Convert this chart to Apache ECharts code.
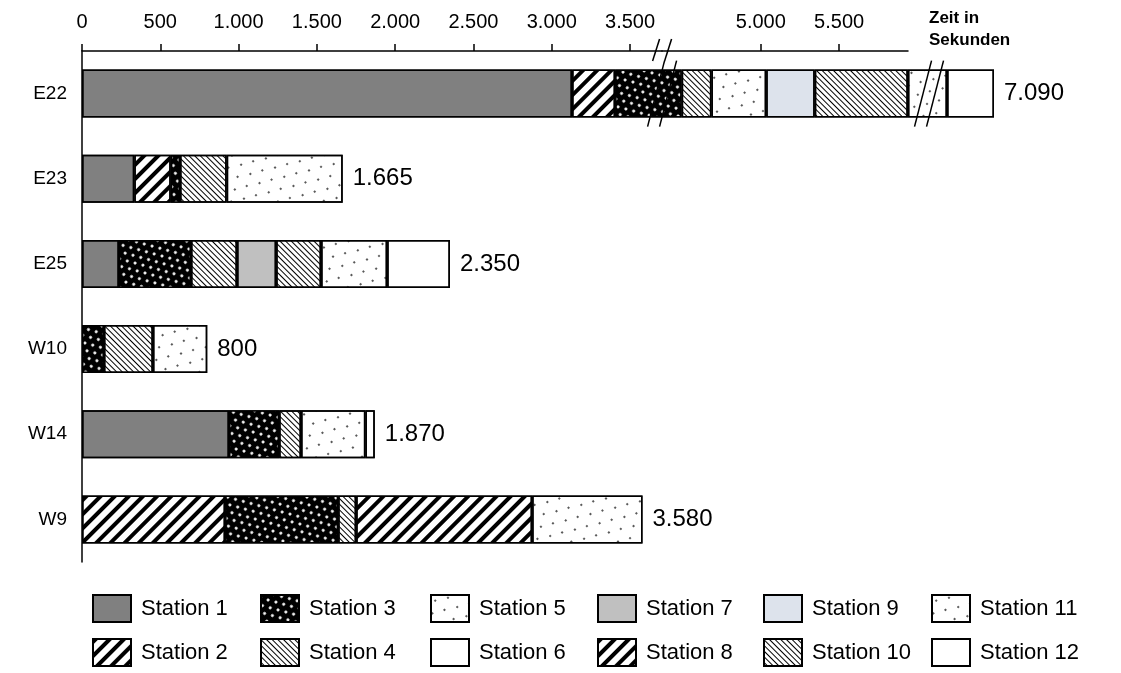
<!DOCTYPE html>
<html>
<head>
<meta charset="utf-8">
<script src="https://cdn.jsdelivr.net/npm/echarts@6.0.0/dist/echarts.min.js"></script>
<style>
  html, body { margin: 0; padding: 0; background: #fff; }
  #chart { width: 1121px; height: 673px; }
</style>
</head>
<body>
<div id="chart"></div>
<script>
// Daten (Sekunden je Station und Fahrzeug)
const categories = ['E22', 'E23', 'E25', 'W10', 'W14', 'W9']
const station1 = [3130, 334, 236, null, 939, null]
const station2 = [275, 233, null, null, null, 914]
const station3 = [1090, 59, 460, 140, 320, 722]
const station4 = [190, 298, 294, 313, 140, 115]
const station5 = [350, 741, null, 347, 411, null]
const station6 = [null, null, null, null, 60, null]
const station7 = [null, null, 250, null, null, null]
const station8 = [null, null, null, null, null, 1124]
const station9 = [310, null, null, null, null, null]
const station10 = [595, null, 287, null, null, null]
const station11 = [850, null, 422, null, null, 705]
const station12 = [300, null, 401, null, null, null]
const totals = [7090, 1665, 2350, 800, 1870, 3580]
const tickValues = [0, 500, 1000, 1500, 2000, 2500, 3000, 3500, 5000, 5500]
// Achsenunterbrechungen (Start, Ende)
const axisBreaks = [[3705, 4370], [6075, 6675]]

const stationData = [station1, station2, station3, station4, station5, station6,
  station7, station8, station9, station10, station11, station12]
const stationNames = stationData.map((d, i) => 'Station ' + (i + 1))

const FONT = 'Arial, "Liberation Sans", sans-serif'
const gridLeft = 82
const gridTop = 51
const gridHeight = 511

const fmt = (v) => String(v).replace(/\B(?=(\d{3})+(?!\d))/g, '.')

// Muster
const noDecal = { symbol: 'none' }
const wideStripes = {
  symbol: 'rect', symbolSize: 1, dashArrayX: [1, 0], dashArrayY: [4, 6],
  rotation: -Math.PI / 4, color: '#000'
}
const fineStripes = {
  symbol: 'rect', symbolSize: 1, dashArrayX: [1, 0], dashArrayY: [1, 2.3],
  rotation: Math.PI / 4, color: '#000'
}
const whiteDots = {
  symbol: 'circle', symbolSize: 1, dashArrayX: [[2.6, 4.4], [0, 3.5, 2.6, 0.9]],
  dashArrayY: [2.6, 3.4], color: '#fff'
}
const sparseDots = {
  symbol: 'circle', symbolSize: 1, dashArrayX: [[1.8, 10.2], [0, 6, 1.8, 4.2]],
  dashArrayY: [1.8, 8.2], color: '#222'
}

const stationStyles = [
  { color: '#808080', decal: noDecal },
  { color: '#fff', decal: wideStripes },
  { color: '#000', decal: whiteDots },
  { color: '#fff', decal: fineStripes },
  { color: '#fff', decal: sparseDots },
  { color: '#fff', decal: noDecal },
  { color: '#c0c0c0', decal: noDecal },
  { color: '#fff', decal: wideStripes },
  { color: '#dde3ec', decal: noDecal },
  { color: '#fff', decal: fineStripes },
  { color: '#fff', decal: sparseDots },
  { color: '#fff', decal: noDecal }
]

const barSeries = stationData.map((data, i) => ({
  name: stationNames[i],
  type: 'bar',
  stack: 'zeit',
  xAxisIndex: 0,
  yAxisIndex: 0,
  barWidth: 48,
  data: data,
  itemStyle: {
    color: stationStyles[i].color,
    decal: stationStyles[i].decal,
    borderColor: '#000',
    borderWidth: 1.5
  }
}))

// unsichtbare Serie nur für die Summenbeschriftung
barSeries.push({
  name: 'Summe',
  type: 'bar',
  stack: 'zeit',
  xAxisIndex: 0,
  yAxisIndex: 0,
  barWidth: 48,
  data: totals.map(() => 0),
  itemStyle: { color: 'transparent', borderWidth: 0, decal: noDecal },
  label: {
    show: true,
    position: 'right',
    distance: 10,
    fontSize: 24,
    fontFamily: FONT,
    color: '#000',
    formatter: (p) => fmt(totals[p.dataIndex])
  }
})

// Legende: zwei Zeilen, sechs Spalten (ungerade oben, gerade unten)
const legendColumns = [92, 260, 430, 597, 763, 931]
const legendRows = [594, 638]
const legends = stationNames.map((name, i) => ({
  left: legendColumns[Math.floor(i / 2)],
  top: legendRows[i % 2],
  padding: 0,
  itemWidth: 38,
  itemHeight: 27,
  icon: 'rect',
  selectedMode: false,
  data: [name],
  textStyle: { fontFamily: FONT, fontSize: 22, color: '#000', padding: [0, 0, 0, 5] }
}))

const chart = echarts.init(document.getElementById('chart'))

const option = {
  animation: false,
  backgroundColor: '#fff',
  aria: { enabled: true, decal: { show: true } },
  textStyle: { fontFamily: FONT },
  grid: [
    { left: gridLeft, top: gridTop, width: 912, height: gridHeight },
    { left: gridLeft, top: gridTop, width: 826, height: gridHeight }
  ],
  xAxis: [
    {
      type: 'value',
      gridIndex: 0,
      min: 0,
      max: 7090,
      show: false,
      breaks: axisBreaks.map((b) => ({ start: b[0], end: b[1], gap: 0 })),
      breakArea: { show: false },
      splitLine: { show: false }
    },
    {
      type: 'value',
      gridIndex: 1,
      position: 'top',
      min: 0,
      max: 5940,
      breaks: [{ start: axisBreaks[0][0], end: axisBreaks[0][1], gap: 0 }],
      breakArea: { show: false },
      name: 'Zeit in\nSekunden',
      nameLocation: 'end',
      nameGap: 21,
      nameTextStyle: {
        fontSize: 17,
        fontWeight: 'bold',
        color: '#000',
        align: 'left',
        verticalAlign: 'bottom',
        lineHeight: 22,
        padding: [0, 0, 0, 0]
      },
      axisLine: { show: true, lineStyle: { color: '#000', width: 1.5 } },
      axisTick: {
        show: true,
        length: 7,
        customValues: tickValues,
        lineStyle: { color: '#000', width: 1.5 }
      },
      axisLabel: {
        customValues: tickValues,
        fontSize: 20,
        color: '#000',
        margin: 19,
        formatter: (v) => fmt(v)
      },
      splitLine: { show: false }
    }
  ],
  yAxis: [
    {
      type: 'category',
      gridIndex: 0,
      data: categories,
      inverse: true,
      axisLine: { lineStyle: { color: '#000', width: 1.5 } },
      axisTick: { show: false },
      axisLabel: { fontSize: 19, color: '#000', margin: 15 }
    },
    {
      type: 'category',
      gridIndex: 1,
      data: categories,
      inverse: true,
      show: false
    }
  ],
  legend: legends,
  series: barSeries
}

chart.setOption(option)

// Unterbrechungszeichen "//" am Balken E22 und an der Achse
const drawBreakMarks = () => {
  const barY = chart.convertToPixel({ yAxisIndex: 0 }, categories[0])
  const elements = []
  const line = (x1, y1, x2, y2) => ({
    type: 'line',
    z: 100,
    shape: { x1: x1, y1: y1, x2: x2, y2: y2 },
    style: { stroke: '#000', lineWidth: 1.5 }
  })
  axisBreaks.forEach((b, bi) => {
    const cx = chart.convertToPixel({ xAxisIndex: 0 }, b[0])
    ;[-6, 6].forEach((o) => {
      elements.push(line(cx + o - 8.5, barY + 33, cx + o + 8.5, barY - 33))
      if (bi === 0) {
        elements.push(line(cx + o - 3.5, gridTop + 10, cx + o + 3.5, gridTop - 12))
      }
    })
  })
  chart.setOption({ graphic: elements })
}
drawBreakMarks()
</script>
</body>
</html>
